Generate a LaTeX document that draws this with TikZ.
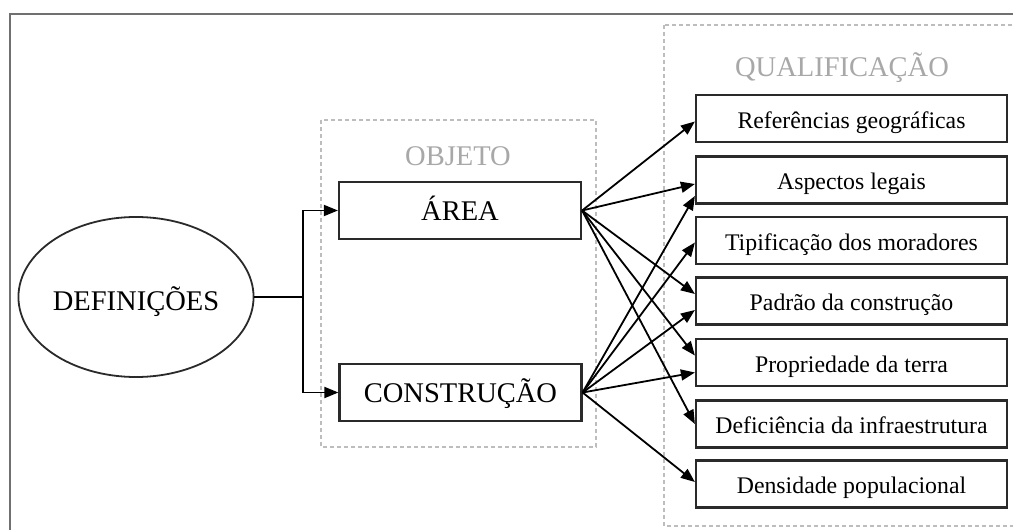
\documentclass[tikz,border=0pt]{standalone}
\usepackage{fontspec}
\setmainfont{Liberation Serif}
\usetikzlibrary{arrows.meta,calc,shapes.geometric}
\definecolor{boxline}{HTML}{2A2A2A}
\definecolor{framec}{HTML}{707070}
\definecolor{dashc}{HTML}{BDBDBD}
\definecolor{grouplbl}{HTML}{A8A8A8}
\tikzset{
  bigtxt/.style={font=\fontsize{28.5}{30}\selectfont},
  smalltxt/.style={font=\fontsize{23.8}{25}\selectfont},
  objbox/.style={draw=boxline, line width=2.2pt, rectangle, inner sep=0pt,
    minimum width=242pt, minimum height=57pt, text height=19pt, text depth=0pt, bigtxt},
  qualbox/.style={draw=boxline, line width=2.2pt, rectangle, inner sep=0pt,
    minimum width=311pt, minimum height=47pt, text height=19pt, text depth=0pt, smalltxt},
  grpbox/.style={draw=dashc, line width=1.1pt, dash pattern=on 4pt off 3pt},
  grplabel/.style={text=grouplbl, bigtxt, inner sep=0pt, anchor=base},
  arr/.style={draw=black, line width=1.8pt, -{Triangle[length=14pt,width=11pt]}},
  conn/.style={draw=black, line width=1.8pt},
}
\begin{document}
\begin{tikzpicture}[x=1pt,y=-1pt]
\clip (0,0) rectangle (1013,530);
\fill[white] (0,0) rectangle (1013,530);
% outer frame (only top and left visible)
\draw[framec, line width=1.8pt] (1020,14) -- (10,14) -- (10,540);
% group boxes
\draw[grpbox] (321,120) rectangle (596,447);
\draw[grpbox] (664,25) rectangle (1030,526);
\node[grplabel] (lobj) at (458,165) {OBJETO};
\node[grplabel] (lqual) at (842,76) {QUALIFICAÇÃO};
% definitions
\node[draw=boxline, line width=1.8pt, ellipse, inner sep=0pt, minimum width=232pt,
  minimum height=160pt, text height=26pt, text depth=0pt, bigtxt] (def) at (136,297) {DEFINIÇÕES};
% objects
\node[objbox] (area) at (460,210.5) {ÁREA};
\node[objbox] (cons) at (460.5,392.5) {CONSTRUÇÃO};
% qualifications
\node[qualbox] (ref) at (851.5,118.5) {Referências geográficas};
\node[qualbox] (asp) at (851.5,180) {Aspectos legais};
\node[qualbox] (tip) at (851.5,240.5) {Tipificação dos moradores};
\node[qualbox] (pad) at (851.5,301) {Padrão da construção};
\node[qualbox] (pro) at (851.5,362.5) {Propriedade da terra};
\node[qualbox] (dfi) at (851.5,424) {Deficiência da infraestrutura};
\node[qualbox] (den) at (851.5,484) {Densidade populacional};
% connectors from definitions
\coordinate (split) at (303,297);
\draw[conn] (def.east) -- (split);
\draw[arr] (split) |- (area.west);
\draw[arr] (split) |- (cons.west);
% from ÁREA
\draw[arr] (area.east) -- ($(ref.west)+(0,3)$);
\draw[arr] (area.east) -- ($(asp.west)+(0,4)$);
\draw[arr] (area.east) -- ($(pad.west)+(0,-7)$);
\draw[arr] (area.east) -- ($(pro.west)+(0,-7)$);
\draw[arr] (area.east) -- (dfi.west);
% from CONSTRUÇÃO
\draw[arr] (cons.east) -- ($(asp.west)+(0,16)$);
\draw[arr] (cons.east) -- ($(tip.west)+(0,2)$);
\draw[arr] (cons.east) -- ($(pad.west)+(0,9)$);
\draw[arr] (cons.east) -- ($(pro.west)+(0,10)$);
\draw[arr] (cons.east) -- ($(den.west)+(0,-2)$);
\end{tikzpicture}
\end{document}
